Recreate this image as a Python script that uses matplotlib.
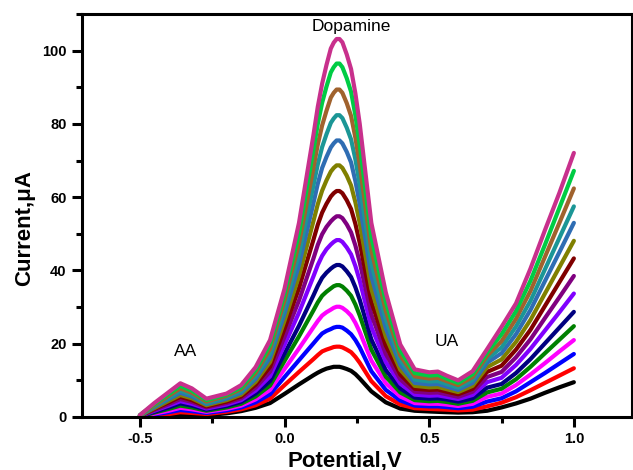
import matplotlib
matplotlib.use("Agg")
import matplotlib.pyplot as plt
from matplotlib.ticker import MultipleLocator

plt.rcParams['font.family'] = ['Liberation Sans', 'DejaVu Sans']

potential = [-0.50, -0.45, -0.40, -0.36, -0.32, -0.27, -0.20, -0.15, -0.10, -0.05,
             0.00, 0.05, 0.10, 0.115, 0.13, 0.145, 0.16, 0.17, 0.18, 0.19,
             0.20, 0.215, 0.23, 0.245, 0.26, 0.30, 0.35, 0.40, 0.45, 0.50,
             0.53, 0.56, 0.60, 0.65, 0.70, 0.75, 0.80, 0.85, 0.90, 0.95, 1.00]

i_black = [0.0, 0.2, 0.4, 0.7, 0.6, 0.5, 1.0, 1.6, 2.5, 3.8, 6.3, 8.9,
           11.4, 12.1, 12.7, 13.2, 13.5, 13.7, 13.7, 13.7, 13.5, 13.1, 12.6, 11.7, 10.5,
           7.0, 4.0, 2.3, 1.7, 1.5, 1.4, 1.3, 1.2, 1.3, 1.7, 2.6, 3.7, 5.0, 6.6, 8.1, 9.5]
i_red = [0.0, 0.4, 0.8, 1.3, 1.1, 0.8, 1.4, 2.1, 3.2, 5.0, 8.7, 12.3,
         15.8, 16.9, 17.9, 18.4, 18.8, 19.1, 19.2, 19.2, 19.0, 18.4, 17.7, 16.4, 14.8,
         9.8, 5.7, 3.4, 2.4, 2.2, 2.1, 2.0, 1.8, 2.0, 2.9, 3.9, 5.4, 7.3, 9.3, 11.3, 13.3]
i_blue = [0.1, 0.7, 1.3, 1.9, 1.6, 1.1, 1.8, 2.6, 4.0, 6.2, 10.9, 15.5,
          20.1, 21.5, 22.8, 23.5, 24.0, 24.4, 24.6, 24.6, 24.4, 23.6, 22.6, 21.0, 19.0,
          12.5, 7.4, 4.5, 3.1, 2.9, 2.9, 2.7, 2.4, 2.8, 4.2, 5.1, 7.0, 9.5, 12.0, 14.6, 17.2]
i_magenta = [0.1, 0.9, 1.7, 2.5, 2.1, 1.4, 2.2, 3.1, 4.8, 7.4, 13.1, 18.7,
             24.5, 26.2, 27.7, 28.6, 29.3, 29.8, 30.1, 30.1, 29.8, 28.9, 27.7, 25.7, 23.2,
             15.4, 9.2, 5.6, 3.8, 3.6, 3.6, 3.4, 3.0, 3.6, 5.5, 6.4, 8.7, 11.6, 14.7, 17.9, 21.0]
i_green = [0.1, 1.2, 2.2, 3.1, 2.6, 1.7, 2.6, 3.6, 5.6, 8.6, 15.3, 22.0,
           29.1, 31.3, 33.1, 34.2, 35.1, 35.7, 36.0, 36.0, 35.6, 34.5, 33.1, 30.7, 27.7,
           18.4, 11.0, 6.7, 4.6, 4.3, 4.4, 4.1, 3.6, 4.4, 6.7, 7.7, 10.3, 13.7, 17.4, 21.1, 24.8]
i_navy = [0.2, 1.4, 2.6, 3.7, 3.1, 2.0, 3.0, 4.1, 6.4, 9.8, 17.3, 24.9,
          33.2, 35.8, 38.0, 39.4, 40.5, 41.1, 41.5, 41.5, 41.1, 39.8, 38.2, 35.4, 32.0,
          21.2, 12.8, 7.8, 5.3, 5.0, 5.1, 4.8, 4.2, 5.1, 8.0, 9.0, 12.0, 15.8, 20.1, 24.4, 28.7]
i_violet = [0.2, 1.7, 3.1, 4.3, 3.6, 2.3, 3.4, 4.6, 7.2, 11.1, 19.7, 28.5,
            38.4, 41.5, 44.0, 45.8, 47.1, 47.8, 48.3, 48.3, 47.8, 46.3, 44.4, 41.2, 37.2,
            24.6, 15.0, 9.1, 6.1, 5.8, 5.9, 5.5, 4.9, 6.0, 9.5, 10.7, 14.2, 18.6, 23.6, 28.6, 33.7]
i_purple = [0.2, 1.9, 3.5, 4.9, 4.1, 2.6, 3.8, 5.1, 8.0, 12.4, 21.9, 31.8,
            43.3, 47.0, 49.9, 51.9, 53.4, 54.2, 54.8, 54.8, 54.3, 52.6, 50.4, 46.8, 42.2,
            28.0, 17.2, 10.3, 6.9, 6.6, 6.7, 6.2, 5.5, 6.9, 10.9, 12.3, 16.3, 21.2, 27.0, 32.7, 38.5]
i_maroon = [0.3, 2.2, 4.0, 5.5, 4.6, 2.9, 4.2, 5.6, 8.8, 13.7, 24.1, 35.2,
            48.4, 52.5, 55.8, 58.2, 60.2, 61.1, 61.7, 61.7, 61.1, 59.2, 56.8, 52.7, 47.5,
            31.5, 19.5, 11.6, 7.7, 7.4, 7.5, 6.9, 6.2, 7.7, 12.3, 14.0, 18.4, 23.8, 30.3, 36.8, 43.3]
i_olive = [0.3, 2.4, 4.4, 6.0, 5.1, 3.2, 4.6, 6.1, 9.6, 15.0, 26.3, 38.5,
           53.5, 58.1, 61.8, 64.6, 67.0, 68.0, 68.7, 68.7, 68.0, 65.9, 63.2, 58.6, 52.9,
           35.0, 21.9, 12.9, 8.5, 8.1, 8.2, 7.6, 6.8, 8.5, 13.6, 15.7, 20.5, 26.5, 33.7, 40.9, 48.1]
i_steel = [0.3, 2.7, 4.9, 6.6, 5.6, 3.5, 5.0, 6.6, 10.4, 16.2, 28.2, 41.5,
           58.4, 63.7, 68.0, 71.0, 73.6, 74.7, 75.5, 75.5, 74.7, 72.4, 69.5, 64.4, 58.1,
           38.5, 24.2, 14.2, 9.3, 8.9, 9.0, 8.3, 7.4, 9.3, 14.8, 17.4, 22.6, 29.2, 37.1, 45.0, 53.0]
i_teal = [0.4, 2.9, 5.3, 7.2, 6.1, 3.8, 5.4, 7.1, 11.2, 17.4, 30.1, 44.5,
          63.2, 69.0, 73.7, 77.2, 80.3, 81.5, 82.4, 82.4, 81.6, 79.0, 75.8, 70.3, 63.4,
          42.0, 26.6, 15.5, 10.2, 9.7, 9.8, 9.0, 8.0, 10.1, 15.8, 19.0, 24.7, 31.7, 40.3, 48.9, 57.5]
i_brown = [0.4, 3.2, 5.8, 7.8, 6.6, 4.2, 5.8, 7.6, 12.0, 18.6, 31.9, 47.4,
           68.0, 74.4, 79.6, 83.6, 87.2, 88.5, 89.4, 89.4, 88.5, 85.7, 82.2, 76.2, 68.8,
           45.6, 29.0, 16.8, 11.1, 10.5, 10.7, 9.8, 8.7, 10.9, 16.7, 20.7, 26.8, 34.4, 43.7, 53.0, 62.4]
i_green2 = [0.5, 3.5, 6.3, 8.5, 7.2, 4.6, 6.1, 8.1, 12.8, 19.8, 33.6, 50.2,
            73.0, 80.0, 85.8, 90.2, 94.1, 95.5, 96.5, 96.5, 95.5, 92.5, 88.8, 82.3, 74.3,
            49.2, 31.5, 18.2, 12.0, 11.3, 11.5, 10.5, 9.3, 11.7, 17.6, 22.6, 28.9, 37.2, 47.0, 57.1, 67.2]
i_pink = [0.5, 3.8, 6.8, 9.2, 7.8, 5.0, 6.4, 8.7, 13.6, 21.0, 35.0, 53.0,
          77.0, 84.7, 91.0, 96.1, 100.6, 102.2, 103.2, 103.2, 102.3, 99.0, 95.0, 88.3, 80.0,
          53.0, 34.0, 19.8, 13.0, 12.2, 12.4, 11.3, 10.0, 12.5, 18.5, 24.6, 31.0, 40.5, 51.0, 61.2, 72.1]

series = [i_black, i_red, i_blue, i_magenta, i_green, i_navy, i_violet, i_purple,
          i_maroon, i_olive, i_steel, i_teal, i_brown, i_green2, i_pink]
colors = ['#000000', '#ff0000', '#0000ff', '#ff00ff', '#008000', '#000080', '#8000ff',
          '#800080', '#800000', '#808000', '#2f6db3', '#1b9696', '#a0622d', '#00cc44', '#c8308c']

x_ticks = [-0.5, 0.0, 0.5, 1.0]
x_ticklabels = ['-0.5', '0.0', '0.5', '1.0']
y_ticks = [0, 20, 40, 60, 80, 100]

fig = plt.figure(figsize=(6.33, 4.70), dpi=100)
ax = fig.add_axes([0.1295, 0.1128, 0.8685, 0.8572])

for ys, c in zip(series, colors):
    ax.plot(potential, ys, color=c, lw=3.0, solid_joinstyle='round', solid_capstyle='round')

ax.set_xlim(-0.7, 1.2)
ax.set_ylim(0, 110)
ax.set_xticks(x_ticks)
ax.set_xticklabels(x_ticklabels)
ax.set_yticks(y_ticks)
ax.xaxis.set_minor_locator(MultipleLocator(0.25))
ax.yaxis.set_minor_locator(MultipleLocator(10))

for sp in ax.spines.values():
    sp.set_linewidth(2.2)
ax.tick_params(which='major', direction='out', length=7, width=2.2, labelsize=10.5, pad=4)
ax.tick_params(which='minor', direction='out', length=4, width=2.2)
for lab in ax.get_xticklabels() + ax.get_yticklabels():
    lab.set_fontweight('bold')

ax.set_xlabel('Potential,V', fontsize=16, fontweight='bold')
ax.set_ylabel('Current,\u03bcA', fontsize=16, fontweight='bold')
ax.xaxis.set_label_coords(0.478, -0.083, transform=ax.transAxes)
ax.xaxis.label.set_va('top')
ax.yaxis.set_label_coords(-0.104, 0.469, transform=ax.transAxes)
ax.yaxis.label.set_va('center')

ax.text(0.232, 106.6, 'Dopamine', fontsize=12.5, ha='center', va='center')
ax.text(-0.342, 17.8, 'AA', fontsize=12.5, ha='center', va='center')
ax.text(0.56, 20.5, 'UA', fontsize=12.5, ha='center', va='center')

fig.savefig('out.png', dpi=100)
